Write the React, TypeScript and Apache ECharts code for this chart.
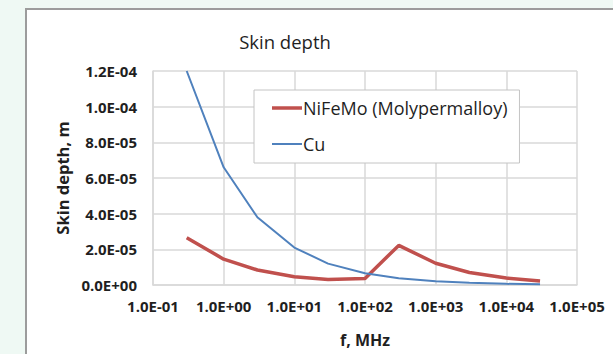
import React, { useEffect, useRef } from "react";
import * as echarts from "echarts";

const freqs = [0.3, 1, 3, 10, 30, 100, 300, 1000, 3000, 10000, 30000];
const nifemo = [2.65e-5, 1.45e-5, 8.4e-6, 4.6e-6, 3.1e-6, 3.7e-6, 2.22e-5, 1.22e-5, 7.0e-6, 3.9e-6, 2.2e-6];
const cu = [1.2e-4, 6.6e-5, 3.8e-5, 2.1e-5, 1.2e-5, 6.6e-6, 3.8e-6, 2.1e-6, 1.2e-6, 6.6e-7, 3.8e-7];
const seriesNames = ["NiFeMo (Molypermalloy)", "Cu"];

function sci(v: number): string {
  if (v === 0) return "0.0E+00";
  const s = v.toExponential(1);
  const [m, e] = s.split("e");
  const n = parseInt(e, 10);
  const sign = n < 0 ? "-" : "+";
  const abs = Math.abs(n);
  return m + "E" + sign + (abs < 10 ? "0" + abs : String(abs));
}

const FONT = "'Open Sans', 'Noto Sans', sans-serif";
const TXT = "#1f1f1f";

export default function App() {
  const ref = useRef<HTMLDivElement>(null);
  useEffect(() => {
    if (!ref.current) return;
    const chart = echarts.init(ref.current, undefined, { renderer: "svg" });
    chart.setOption({
      animation: false,
      backgroundColor: "#eff9f4",
      textStyle: { fontFamily: FONT },
      graphic: [
        {
          type: "rect",
          z: -10,
          shape: { x: 26, y: 9, width: 620, height: 380 },
          style: { fill: "#ffffff", stroke: "#9c9c9c", lineWidth: 2 },
        },
      ],
      title: {
        text: "Skin depth",
        left: 280,
        top: 27,
        textAlign: "center",
        textStyle: { fontFamily: FONT, fontSize: 18.5, fontWeight: "normal", color: TXT },
      },
      legend: {
        orient: "vertical",
        left: 254,
        top: 90,
        width: 266,
        data: [
          { name: seriesNames[0], icon: "path://M0,0H30V3.5H0Z", itemStyle: { color: "#c0504d" } },
          { name: seriesNames[1], icon: "path://M0,0H30V2H0Z", itemStyle: { color: "#4f81bd" } },
        ],
        itemWidth: 30,
        itemHeight: 14,
        itemGap: 18,
        symbolKeepAspect: true,
        padding: [9, 12, 10, 18],
        borderColor: "#c4c4c4",
        borderWidth: 1,
        backgroundColor: "#ffffff",
        textStyle: { fontFamily: FONT, fontSize: 18, color: TXT, padding: [0, 0, 0, -4] },
      },
      grid: { left: 153, top: 71, right: 36, bottom: 69 },
      xAxis: {
        type: "log",
        logBase: 10,
        min: 0.1,
        max: 100000,
        name: "f, MHz",
        nameLocation: "middle",
        nameGap: 47,
        nameTextStyle: { fontFamily: FONT, fontSize: 16, fontWeight: "bold", color: TXT },
        axisLine: { show: true, lineStyle: { color: "#d9d9d9", width: 1.5 } },
        axisTick: { show: false },
        splitLine: { show: true, lineStyle: { color: "#d9d9d9", width: 1.5 } },
        axisLabel: {
          formatter: (v: number) => sci(v),
          fontFamily: FONT,
          fontSize: 15,
          fontWeight: "bold",
          color: TXT,
          margin: 13,
          showMinLabel: true,
          showMaxLabel: true,
        },
      },
      yAxis: {
        type: "value",
        min: 0,
        max: 1.2e-4,
        interval: 2e-5,
        name: "Skin depth, m",
        nameLocation: "middle",
        nameGap: 82,
        nameTextStyle: { fontFamily: FONT, fontSize: 16.5, fontWeight: "bold", color: TXT },
        axisLine: { show: true, lineStyle: { color: "#d9d9d9", width: 1.5 } },
        axisTick: { show: false },
        splitLine: { show: true, lineStyle: { color: "#d9d9d9", width: 1.5 } },
        axisLabel: {
          formatter: (v: number) => sci(v),
          fontFamily: FONT,
          fontSize: 15,
          fontWeight: "bold",
          color: TXT,
          margin: 16,
        },
      },
      series: [
        {
          name: seriesNames[0],
          type: "line",
          symbol: "none",
          data: freqs.map((f, i) => [f, nifemo[i]]),
          lineStyle: { color: "#c0504d", width: 3.5 },
          itemStyle: { color: "#c0504d" },
        },
        {
          name: seriesNames[1],
          type: "line",
          symbol: "none",
          data: freqs.map((f, i) => [f, cu[i]]),
          lineStyle: { color: "#4f81bd", width: 2 },
          itemStyle: { color: "#4f81bd" },
        },
      ],
    });
    return () => chart.dispose();
  }, []);
  return (
    <div style={{ position: "fixed", left: 0, top: 0, width: 613, height: 354 }}>
      <div ref={ref} style={{ width: 613, height: 354 }} />
    </div>
  );
}
